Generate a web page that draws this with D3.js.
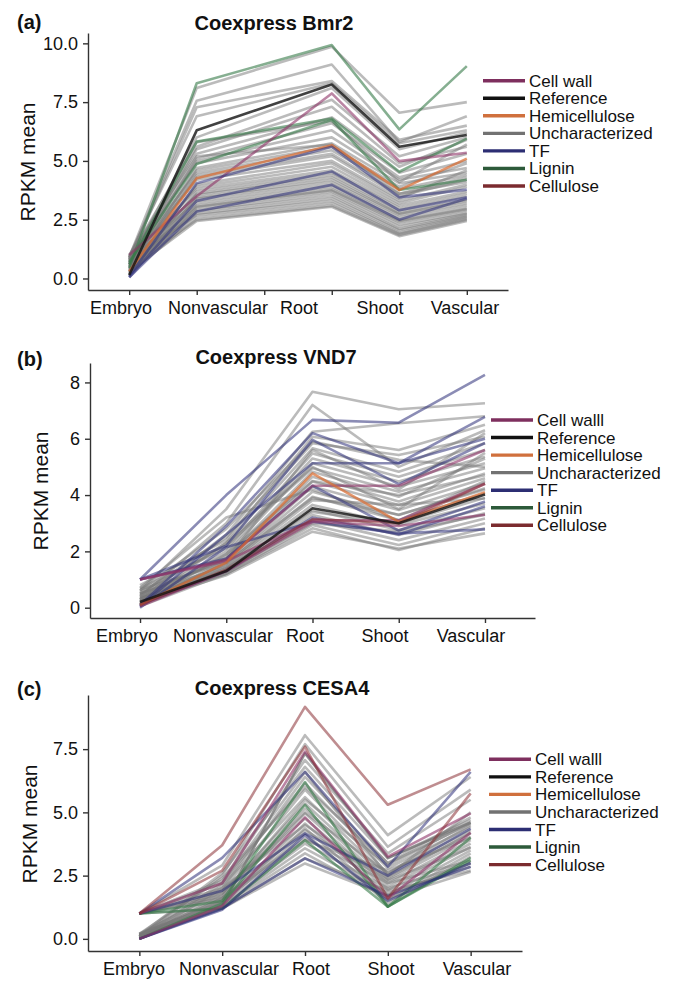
<!DOCTYPE html>
<html><head><meta charset="utf-8">
<script src="https://cdn.jsdelivr.net/npm/d3@7"></script>
<style>body{margin:0;background:#fff} svg{display:block} text{font-family:"Liberation Sans",Arial,Helvetica,sans-serif;fill:#111}</style>
</head><body><svg id="chart" width="680" height="981"></svg>
<script>
// ---------- data ----------
const categories = ["Embryo", "Nonvascular", "Root", "Shoot", "Vascular"];
const slotsA = ["Embryo", "Nonvascular", "_gap", "Root", "Shoot", "Vascular"];
const groupKeys = ["CW", "REF", "HEMI", "UNC", "TF", "LIG", "CEL"];
const legendLabelsA = ["Cell wall", "Reference", "Hemicellulose", "Uncharacterized", "TF", "Lignin", "Cellulose"];
const legendLabelsBC = ["Cell walll", "Reference", "Hemicellulose", "Uncharacterized", "TF", "Lignin", "Cellulose"];
const yTicksA = [0, 2.5, 5, 7.5, 10];
const yTicksB = [0, 2, 4, 6, 8];
const yTicksC = [0, 2.5, 5, 7.5];

// each row: [group, Embryo, Nonvascular, Root, Shoot, Vascular]
const bmr2Lines = [
  ["UNC",0.9,8.1,9.86,7.05,7.5],["UNC",0.85,7.56,9.1,5.8,6.9],["UNC",0.8,7.28,8.4,5.9,6.5],
  ["UNC",0.95,6.9,8.3,5.75,6.3],["UNC",0.7,6.0,8.1,5.5,6.2],["UNC",0.75,5.6,7.6,5.2,6.0],
  ["UNC",0.6,5.5,7.3,4.9,5.6],["UNC",1.0,5.3,6.85,4.75,5.9],["UNC",0.5,5.1,6.6,4.5,5.3],
  ["UNC",0.65,5.0,6.3,4.3,5.0],["UNC",0.9,4.9,6.0,4.2,4.7],["UNC",0.4,4.7,5.75,4.05,4.5],
  ["UNC",0.55,4.6,5.6,3.9,4.9],["UNC",0.8,4.5,5.45,3.8,4.4],["UNC",0.35,4.4,5.3,3.6,4.3],
  ["UNC",0.6,4.3,5.2,3.5,4.2],["UNC",0.7,4.2,5.0,3.4,4.6],["UNC",0.3,4.0,4.9,3.3,4.0],
  ["UNC",0.45,3.9,4.75,3.2,3.9],["UNC",0.85,3.8,4.6,3.1,3.7],["UNC",0.25,3.7,4.5,3.0,3.6],
  ["UNC",0.5,3.6,4.4,2.9,3.5],["UNC",0.65,3.55,4.3,2.8,3.35],["UNC",0.2,3.45,4.2,2.75,3.3],
  ["UNC",0.4,3.4,4.1,2.7,3.2],["UNC",0.75,3.3,4.0,2.6,3.1],["UNC",0.3,3.2,3.9,2.5,3.0],
  ["UNC",0.55,3.1,3.8,2.45,2.95],["UNC",0.15,3.05,3.75,2.4,2.9],["UNC",0.6,3.0,3.7,2.3,2.8],
  ["UNC",0.35,2.9,3.6,2.2,2.75],["UNC",0.45,2.85,3.5,2.1,2.7],["UNC",0.25,2.75,3.4,2.05,2.65],
  ["UNC",0.7,2.7,3.3,1.95,2.6],["UNC",0.2,2.6,3.2,1.9,2.55],["UNC",0.5,2.5,3.1,1.85,2.5],
  ["UNC",0.3,2.45,3.05,1.8,2.45],["UNC",0.9,5.8,6.7,4.1,5.7],["UNC",0.8,5.2,5.7,3.6,4.1],
  ["LIG",0.45,8.3,9.93,6.34,9.03],["LIG",0.6,5.82,6.8,4.54,5.95],["LIG",0.7,4.87,6.74,3.76,4.2],
  ["CW",1.0,3.5,7.87,4.99,5.35],["HEMI",0.3,4.26,5.67,3.76,5.1],
  ["TF",0.1,4.05,5.6,3.45,3.78],["TF",0.05,3.3,4.55,2.9,3.45],["TF",0.05,2.85,3.98,2.5,3.4],
  ["REF",0.15,6.3,8.25,5.6,6.1]
];
const vnd7Lines = [
  ["UNC",0.6,3.5,7.67,7.05,7.26],["UNC",0.4,3.0,7.2,5.0,6.3],["UNC",0.3,2.6,6.25,6.55,6.8],
  ["UNC",0.8,2.4,6.07,5.6,6.5],["UNC",0.5,2.5,5.84,5.42,6.07],["UNC",0.2,2.3,5.66,4.83,5.84],
  ["UNC",0.7,2.1,5.48,4.65,5.6],["UNC",0.35,2.0,5.3,4.48,5.36],["UNC",0.15,1.9,5.13,4.3,5.13],
  ["UNC",0.55,2.2,4.95,4.12,4.95],["UNC",0.25,1.8,4.83,3.94,5.3],["UNC",0.45,1.75,4.65,3.77,4.77],
  ["UNC",0.1,1.7,4.48,3.65,4.6],["UNC",0.65,1.6,4.3,3.47,4.42],["UNC",0.3,1.55,4.12,3.29,4.24],
  ["UNC",0.2,1.5,3.94,3.11,4.06],["UNC",0.5,1.45,3.82,3.65,3.88],["UNC",0.1,1.4,3.65,2.94,3.7],
  ["UNC",0.4,1.35,3.47,2.76,3.53],["UNC",0.25,1.3,3.29,2.58,3.35],["UNC",0.15,1.25,3.11,2.4,3.17],
  ["UNC",0.35,1.2,2.94,2.23,3.0],["UNC",0.05,1.2,2.82,2.05,2.82],["UNC",0.2,1.15,2.7,2.1,2.64],
  ["UNC",0.6,2.8,5.9,5.25,5.0],["UNC",0.3,1.9,4.5,4.0,4.7],["UNC",0.45,2.3,5.0,3.5,5.5],
  ["UNC",0.1,1.6,3.9,3.3,4.2],["UNC",0.3,1.4,3.4,3.0,3.9],["UNC",0.2,1.3,3.0,2.7,3.3],
  ["UNC",0.7,3.2,4.2,3.1,4.5],["UNC",0.5,1.7,5.6,4.2,6.2],
  ["TF",1.0,4.0,6.67,6.57,8.27],["TF",0.1,2.9,6.2,5.13,6.0],["TF",1.0,2.2,5.96,4.39,5.85],
  ["TF",0.05,2.6,5.13,5.13,6.78],["TF",1.0,1.75,4.33,2.74,3.77],["TF",0.0,2.15,3.05,2.64,2.78],
  ["TF",0.1,1.3,3.2,2.6,3.6],
  ["CW",1.0,1.7,4.33,4.33,5.6],["CW",1.0,1.65,3.1,3.1,4.4],["CW",0.05,1.3,3.05,2.9,3.3],
  ["HEMI",0.1,1.6,4.77,3.05,4.1],["CEL",0.1,1.35,3.15,3.0,4.4],
  ["REF",0.2,1.3,3.53,3.0,4.02]
];
const cesa4Lines = [
  ["REF",0.0,1.3,7.33,3.2,4.6],
  ["UNC",1.0,2.9,8.05,4.1,6.4],["UNC",0.1,2.5,7.7,3.64,5.9],["UNC",1.0,2.3,7.07,3.38,5.5],
  ["UNC",0.15,2.6,6.8,3.18,4.7],["UNC",0.0,2.0,6.4,2.98,4.56],["UNC",1.0,2.2,6.15,2.79,4.43],
  ["UNC",0.2,1.9,5.9,2.59,4.3],["UNC",0.1,2.1,5.6,2.46,4.17],["UNC",1.0,1.8,5.35,2.33,4.04],
  ["UNC",0.05,1.7,5.15,2.19,3.9],["UNC",0.15,1.6,4.96,2.06,3.77],["UNC",1.0,1.9,4.76,1.93,3.64],
  ["UNC",0.0,1.5,4.56,1.73,3.5],["UNC",0.2,1.45,4.37,1.53,3.38],["UNC",0.1,1.4,4.17,1.4,3.25],
  ["UNC",1.0,1.6,3.97,2.2,3.1],["UNC",0.05,1.35,3.77,2.0,2.98],["UNC",0.15,1.3,3.58,1.8,2.85],
  ["UNC",0.0,1.25,3.38,1.6,2.65],["UNC",0.1,1.2,3.18,1.9,2.7],["UNC",1.0,1.2,2.98,1.7,3.0],
  ["UNC",0.2,2.4,6.0,3.0,4.8],["UNC",0.1,1.8,5.0,2.6,4.5],["UNC",1.0,2.0,4.5,2.4,4.2],
  ["UNC",0.05,1.6,4.3,2.3,3.6],["UNC",0.15,1.5,3.9,2.7,4.0],["UNC",1.0,1.7,5.5,2.9,4.6],
  ["UNC",0.1,2.2,6.6,2.5,5.0],
  ["LIG",1.0,1.5,6.2,1.27,3.1],["LIG",0.0,1.4,5.3,1.27,4.0],["LIG",1.0,1.2,3.9,1.27,3.2],
  ["TF",1.0,3.2,6.6,2.85,6.6],["TF",1.0,1.9,4.17,2.5,4.36],["TF",0.0,1.2,3.18,1.7,2.85],
  ["TF",0.0,1.15,4.1,1.5,3.0],
  ["CW",1.0,2.2,7.4,3.25,4.96],["CW",0.0,1.3,4.8,1.6,4.2],
  ["CEL",1.0,3.7,9.17,5.3,6.7],["CEL",1.0,2.7,7.6,1.6,5.75]
];

// ---------- styles ----------
const legendColor = {CW:"#7e2f5e", REF:"#111111", HEMI:"#d0703d", UNC:"#727272", TF:"#2c2e73", LIG:"#2d5a3a", CEL:"#7b2b2f"};
const lineColor = {CW:"#8e3468", REF:"#111111", HEMI:"#d8692e", UNC:"#777777", TF:"#2c2e78", LIG:"#357a48", CEL:"#8b3035"};
const lineOpacity = {CW:0.6, REF:0.8, HEMI:0.7, UNC:0.5, TF:0.55, LIG:0.6, CEL:0.55};

const panels = [
  {tag:"(a)", title:"Coexpress Bmr2", lines:bmr2Lines, legend:legendLabelsA, slots:slotsA, yTicks:yTicksA, fmt:d3.format(".1f"),
   left:88, right:508, top:33, bottom:290, yDomain:[-0.49,10.44], pad:0.61, labelX:[121,218,299,380,465], refOpacity:0.8,
   tagY:29, titleX:274, titleY:30, ytX:35, ytY:162, lgX:483, lgY:80.7},
  {tag:"(b)", title:"Coexpress VND7", lines:vnd7Lines, legend:legendLabelsBC, slots:categories, yTicks:yTicksB, fmt:d3.format("d"),
   left:90, right:535, top:363, bottom:618, yDomain:[-0.366,8.69], pad:0.58, labelX:[127,223,305,385,471], refOpacity:0.8,
   tagY:366, titleX:276, titleY:364, ytX:48, ytY:491, lgX:491, lgY:420},
  {tag:"(c)", title:"Coexpress CESA4", lines:cesa4Lines, legend:legendLabelsBC, slots:categories, yTicks:yTicksC, fmt:d3.format(".1f"),
   left:88, right:522, top:695, bottom:951, yDomain:[-0.48,9.64], pad:0.62, labelX:[134,229,311,391,477], refOpacity:0.45,
   tagY:696, titleX:282, titleY:695, ytX:37, ytY:824, lgX:489, lgY:759.3}
];

const svg = d3.select("#chart");

panels.forEach(p => {
  const g = svg.append("g");
  const x = d3.scalePoint().domain(p.slots).range([p.left, p.right]).padding(p.pad);
  const y = d3.scaleLinear().domain(p.yDomain).range([p.bottom, p.top]);
  const xl = d3.scaleOrdinal().domain(categories).range(p.labelX);

  // lines
  const lineGen = d3.line().x(d => x(d[0])).y(d => y(d[1]));
  const ordered = p.lines.filter(r => r[0] === "UNC" || (r[0] === "REF" && p.refOpacity < 0.6))
    .concat(p.lines.filter(r => !(r[0] === "UNC" || (r[0] === "REF" && p.refOpacity < 0.6))));
  g.append("g").selectAll("path").data(ordered).join("path")
    .attr("d", r => lineGen(categories.map((c, i) => [c, r[i + 1]])))
    .attr("fill", "none")
    .attr("stroke", r => lineColor[r[0]])
    .attr("stroke-opacity", r => r[0] === "REF" ? p.refOpacity : lineOpacity[r[0]])
    .attr("stroke-width", 2.6)
    .attr("stroke-linejoin", "round");

  // axes
  const ya = g.append("g").attr("transform", `translate(${p.left},0)`)
    .call(d3.axisLeft(y).tickValues(p.yTicks).tickFormat(p.fmt).tickSize(5).tickPadding(5).tickSizeOuter(0));
  const xa = g.append("g").attr("transform", `translate(0,${p.bottom})`)
    .call(d3.axisBottom(x).tickFormat("").tickSize(5).tickSizeOuter(0));
  [ya, xa].forEach(a => {
    a.selectAll("path,line").attr("stroke", "#333").attr("stroke-width", 1.4);
    a.selectAll("text").attr("font-size", 18).attr("fill", "#111");
  });
  g.append("g").selectAll("text").data(categories).join("text")
    .attr("x", d => xl(d)).attr("y", p.bottom + 24)
    .attr("text-anchor", "middle").attr("font-size", 18).text(d => d);

  // titles
  g.append("text").attr("x", 17).attr("y", p.tagY).attr("font-size", 20).attr("font-weight", "bold").text(p.tag);
  g.append("text").attr("x", p.titleX).attr("y", p.titleY).attr("text-anchor", "middle")
    .attr("font-size", 20).attr("font-weight", "bold").text(p.title);
  g.append("text").attr("transform", `translate(${p.ytX},${p.ytY}) rotate(-90)`)
    .attr("text-anchor", "middle").attr("font-size", 21).text("RPKM mean");

  // legend
  const lg = g.append("g").selectAll("g").data(groupKeys).join("g")
    .attr("transform", (d, i) => `translate(${p.lgX},${p.lgY + i * 17.55})`);
  lg.append("line").attr("x1", 0).attr("x2", 42).attr("y1", 0).attr("y2", 0)
    .attr("stroke", d => legendColor[d]).attr("stroke-width", 3.4);
  lg.append("text").attr("x", 46).attr("y", 6).attr("font-size", 17).text((d, i) => p.legend[i]);
});
</script></body></html>
